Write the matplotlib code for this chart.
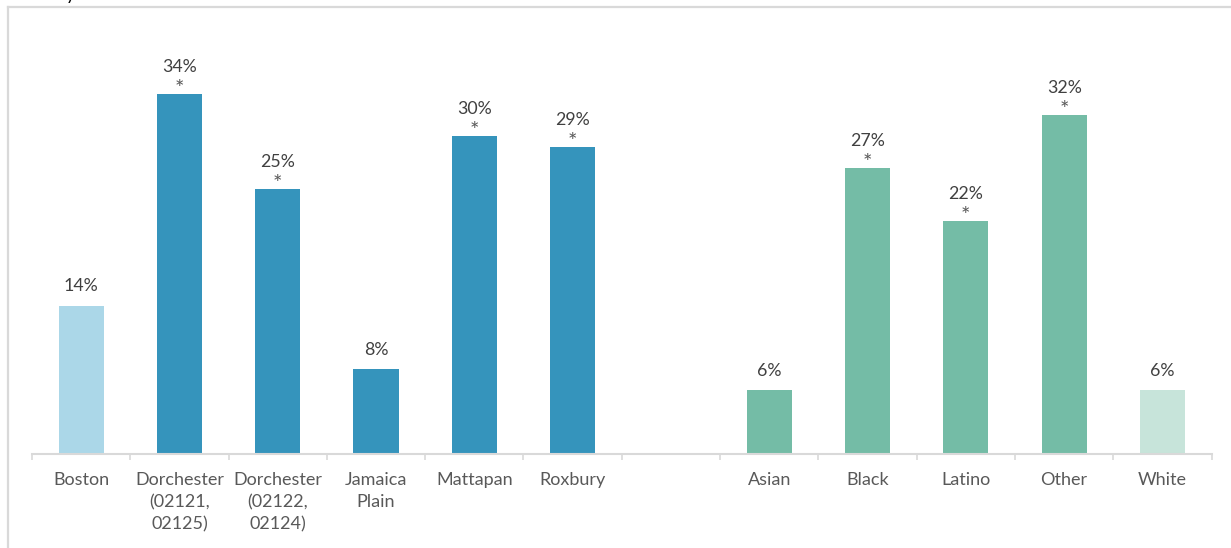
import matplotlib.pyplot as plt
from matplotlib.lines import Line2D

plt.rcParams['font.family'] = ['Lato', 'DejaVu Sans']

# neighborhoods, then race/ethnicity groups (with an empty slot between)
neighborhoods = ['Boston', 'Dorchester\n(02121,\n02125)', 'Dorchester\n(02122,\n02124)',
                 'Jamaica\nPlain', 'Mattapan', 'Roxbury']
neigh_vals = [14, 34, 25, 8, 30, 29]
neigh_sig = [False, True, True, False, True, True]

races = ['Asian', 'Black', 'Latino', 'Other', 'White']
race_vals = [6, 27, 22, 32, 6]
race_sig = [False, True, True, True, False]

neigh_colors = ['#abd7e8'] + ['#3594bc'] * 5
race_colors = ['#74bca6'] * 4 + ['#c7e4da']

labels = neighborhoods + [''] + races
vals = neigh_vals + [None] + race_vals
sig = neigh_sig + [False] + race_sig
colors = neigh_colors + [None] + race_colors

W, H = 1231, 548
fig = plt.figure(figsize=(W / 100, H / 100), dpi=100)
ax = fig.add_axes([32 / W, 94 / H, 1179.6 / W, 423.6 / H])

for i, (v, s, c) in enumerate(zip(vals, sig, colors)):
    if v is None:
        continue
    ax.bar(i, v, width=0.46, color=c)
    if s:
        ax.annotate(f'{v}%', (i, v), xytext=(0, 19.5), textcoords='offset points',
                    ha='center', va='center', fontsize=12.8, color='#404040')
        ax.annotate('*', (i, v), xytext=(0, 3.5), textcoords='offset points',
                    ha='center', va='center', fontsize=16, color='#595959')
    else:
        ax.annotate(f'{v}%', (i, v), xytext=(0, 14), textcoords='offset points',
                    ha='center', va='center', fontsize=12.8, color='#404040')

ax.set_xlim(-0.5, len(labels) - 0.5)
ax.set_ylim(0, 40)
ax.set_yticks([])
for side in ['top', 'right', 'left']:
    ax.spines[side].set_visible(False)
ax.spines['bottom'].set_color('#d9d9d9')
ax.spines['bottom'].set_linewidth(1.5)

# category labels between boundary ticks
ax.set_xticks([i - 0.5 for i in range(len(labels) + 1)])
ax.set_xticklabels([])
ax.tick_params(axis='x', length=4, width=1.2, color='#d9d9d9')
for i, lab in enumerate(labels):
    ax.text(i, -1.7, lab, ha='center', va='top', fontsize=13, color='#595959',
            linespacing=1.48, transform=ax.transData)

# outer frame, cut by the figure edges
fig.add_artist(Line2D([8 / W, 8 / W], [0, 1 - 7 / H], color='#d9d9d9', lw=1.6))
fig.add_artist(Line2D([8 / W, 1], [1 - 7 / H, 1 - 7 / H], color='#d9d9d9', lw=1.6))
fig.text(66 / W, 1.0, 'y', ha='left', va='baseline', fontsize=13, color='black')

fig.savefig('out.png', dpi=100)
